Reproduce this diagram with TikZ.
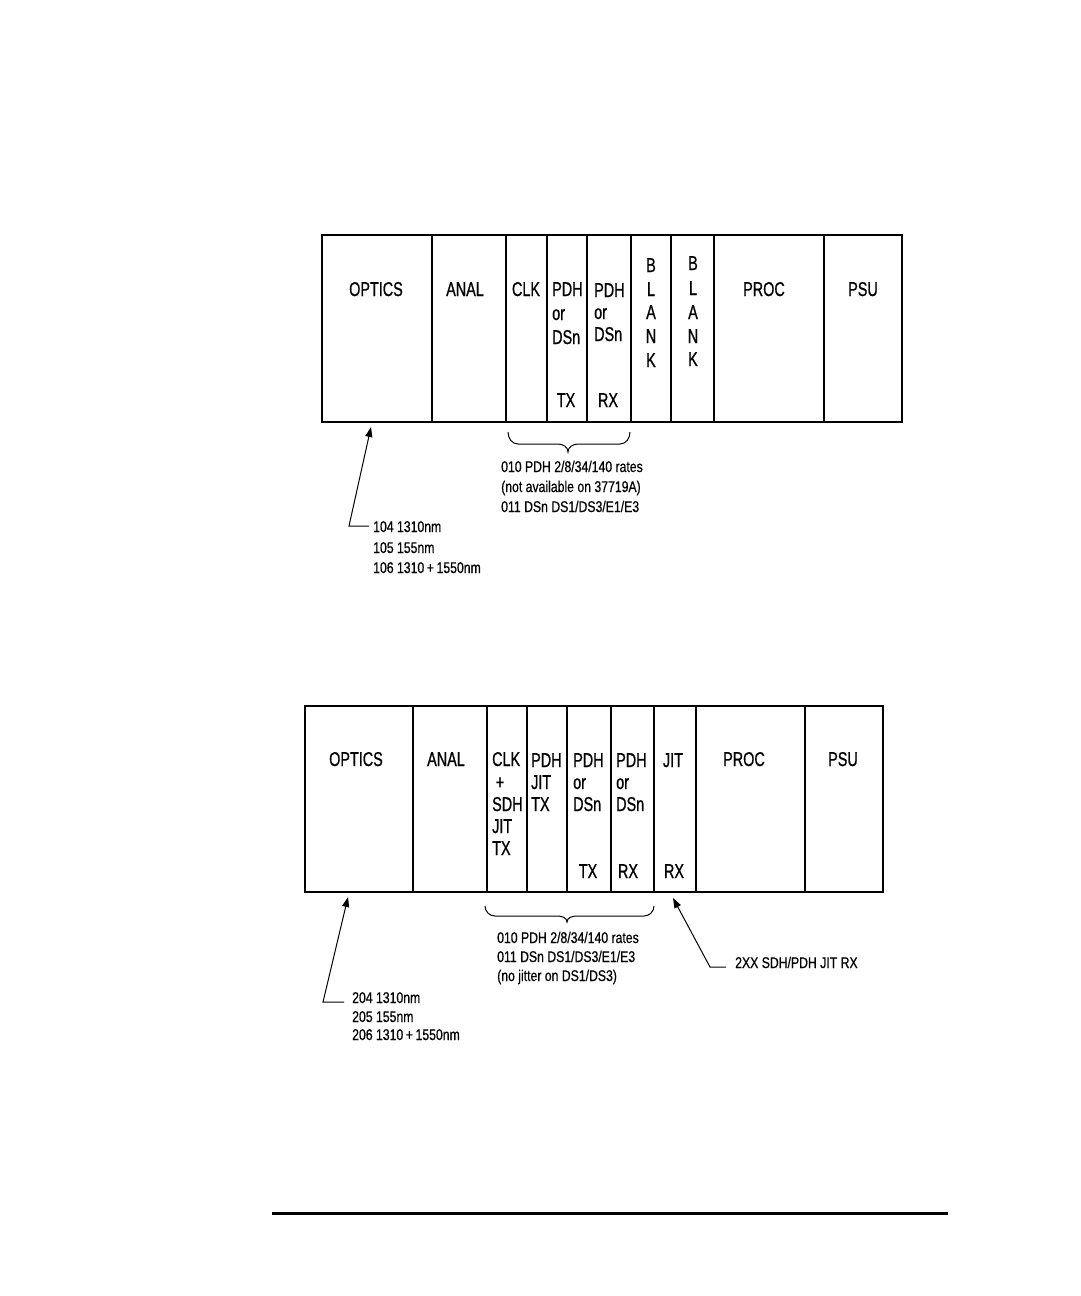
\documentclass[tikz,border=0pt]{standalone}
\usepackage{fontspec}
\usetikzlibrary{arrows.meta}
\newfontfamily\condf[FakeStretch=0.72,FakeBold=0.8]{Liberation Sans}
\newfontfamily\condsf[FakeStretch=0.79,FakeBold=0.6]{Liberation Sans}
\begin{document}
\begin{tikzpicture}[x=1pt,y=-1pt,
 lab/.style={font=\condf\fontsize{20}{24}\selectfont, inner sep=0pt, anchor=base},
 labl/.style={lab, anchor=base west},
 note/.style={font=\condsf\fontsize{15.5}{18}\selectfont, inner sep=0pt, anchor=base west},
 frame/.style={line width=2.6pt},
 div/.style={line width=1.8pt},
 thinl/.style={line width=1pt},
 arr/.style={thinl, -{Triangle[length=10pt,width=7pt]}},
]
\useasboundingbox (0,0) rectangle (1080,1296);

% ---------- top rack ----------
\draw[frame] (322,235) rectangle (902,422);
\foreach \x in {432,506,547,587,631,671,714,824} \draw[div] (\x,235) -- (\x,422);

\node[lab] (t1) at (376,296) {OPTICS};
\node[lab] (t2) at (465,296) {ANAL};
\node[lab] (t3) at (526,296) {CLK};
\node[labl] (t4a) at (552,296) {PDH};
\node[labl] (t4b) at (552,320) {or};
\node[labl] (t4c) at (552,344) {DSn};
\node[lab] (t4d) at (566,407) {TX};
\node[labl] (t5a) at (594,297) {PDH};
\node[labl] (t5b) at (594,319) {or};
\node[labl] (t5c) at (594,341) {DSn};
\node[lab] (t5d) at (608,407) {RX};
\node[lab] (t6a) at (651,272) {B};
\node[lab] (t6b) at (651,296) {L};
\node[lab] (t6c) at (651,319) {A};
\node[lab] (t6d) at (651,343) {N};
\node[lab] (t6e) at (651,367) {K};
\node[lab] (t7a) at (693,270) {B};
\node[lab] (t7b) at (693,295) {L};
\node[lab] (t7c) at (693,319) {A};
\node[lab] (t7d) at (693,343) {N};
\node[lab] (t7e) at (693,366) {K};
\node[lab] (t8) at (764,296) {PROC};
\node[lab] (t9) at (863,296) {PSU};

% brace top
\draw[thinl] (508,432) to[out=-90,in=180] (518,444) -- (558,444) to[out=0,in=90] (568,452)
  to[out=90,in=180] (578,444) -- (620,444) to[out=0,in=-90] (630,432);

\node[note] (n1a) at (501,472) {010 PDH 2/8/34/140 rates};
\node[note] (n1b) at (501,492) {(not available on 37719A)};
\node[note] (n1c) at (501,512) {011 DSn DS1/DS3/E1/E3};

\coordinate (a1tip) at (371,427);
\coordinate (a1c) at (349,526);
\coordinate (a1e) at (369,526);
\draw[arr] (a1e) -- (a1c) -- (a1tip);
\node[note] (n2a) at (373,532) {104 1310nm};
\node[note] (n2b) at (373,553) {105 155nm};
\node[note] (n2c) at (373,573) {106 1310\,+\,1550nm};

% ---------- bottom rack ----------
\draw[frame] (305,706) rectangle (883,892);
\foreach \x in {413,487,527,567,611,654,696,805} \draw[div] (\x,706) -- (\x,892);

\node[lab] (b1) at (356,766) {OPTICS};
\node[lab] (b2) at (446,766) {ANAL};
\node[labl] (b3a) at (492,766) {CLK};
\node[lab] (b3b) at (500,789) {+};
\node[labl] (b3c) at (492,811) {SDH};
\node[labl] (b3d) at (492,833) {JIT};
\node[labl] (b3e) at (492,855) {TX};
\node[labl] (b4a) at (531,767) {PDH};
\node[labl] (b4b) at (531,789) {JIT};
\node[labl] (b4c) at (531,811) {TX};
\node[labl] (b5a) at (573,767) {PDH};
\node[labl] (b5b) at (573,789) {or};
\node[labl] (b5c) at (573,811) {DSn};
\node[lab] (b5d) at (588,878) {TX};
\node[labl] (b6a) at (616,767) {PDH};
\node[labl] (b6b) at (616,789) {or};
\node[labl] (b6c) at (616,811) {DSn};
\node[lab] (b6d) at (628,878) {RX};
\node[lab] (b7a) at (673,767) {JIT};
\node[lab] (b7b) at (674,878) {RX};
\node[lab] (b8) at (744,766) {PROC};
\node[lab] (b9) at (843,766) {PSU};

% brace bottom
\draw[thinl] (485,906) to[out=-90,in=180] (495,916) -- (557,916) to[out=0,in=90] (567,922)
  to[out=90,in=180] (577,916) -- (644,916) to[out=0,in=-90] (654,906);

\node[note] (m1a) at (497,943) {010 PDH 2/8/34/140 rates};
\node[note] (m1b) at (497,962) {011 DSn DS1/DS3/E1/E3};
\node[note] (m1c) at (497,981) {(no jitter on DS1/DS3)};

\coordinate (a2tip) at (348,897);
\coordinate (a2c) at (323,1002);
\coordinate (a2e) at (344,1002);
\draw[arr] (a2e) -- (a2c) -- (a2tip);
\node[note] (m2a) at (352,1003) {204 1310nm};
\node[note] (m2b) at (352,1022) {205 155nm};
\node[note] (m2c) at (352,1040) {206 1310\,+\,1550nm};

\coordinate (a3tip) at (673,898);
\coordinate (a3c) at (710,967);
\coordinate (a3e) at (726,967);
\draw[arr] (a3e) -- (a3c) -- (a3tip);
\node[note] (m3) at (735,968) {2XX SDH/PDH JIT RX};

% footer rule
\draw[line width=3pt] (272,1213) -- (948,1213);
\end{tikzpicture}
\end{document}
